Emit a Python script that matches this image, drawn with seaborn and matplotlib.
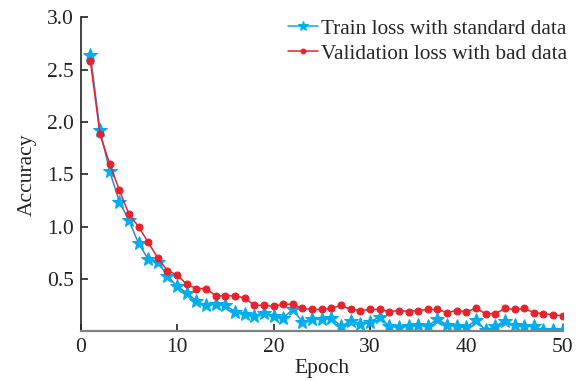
import numpy as np
import pandas as pd
import matplotlib
matplotlib.use("Agg")
import matplotlib.pyplot as plt
import seaborn as sns

epochs = list(range(1, 51))
train_loss = [2.64, 1.92, 1.53, 1.24, 1.06, 0.84, 0.69, 0.66, 0.53, 0.43,
              0.37, 0.29, 0.25, 0.26, 0.25, 0.19, 0.17, 0.15, 0.18, 0.15,
              0.13, 0.21, 0.09, 0.12, 0.12, 0.13, 0.05, 0.10, 0.07, 0.09,
              0.14, 0.05, 0.04, 0.05, 0.06, 0.05, 0.12, 0.06, 0.05, 0.04,
              0.11, 0.01, 0.05, 0.10, 0.06, 0.05, 0.05, 0.01, 0.01, 0.01]
val_loss = [2.58, 1.88, 1.60, 1.35, 1.12, 1.00, 0.85, 0.70, 0.58, 0.54,
            0.45, 0.41, 0.41, 0.34, 0.34, 0.34, 0.32, 0.25, 0.25, 0.24,
            0.26, 0.26, 0.22, 0.21, 0.21, 0.22, 0.25, 0.21, 0.20, 0.21,
            0.21, 0.19, 0.20, 0.19, 0.20, 0.21, 0.21, 0.18, 0.20, 0.19,
            0.22, 0.17, 0.17, 0.22, 0.21, 0.22, 0.18, 0.17, 0.16, 0.15]
xticks = [0, 10, 20, 30, 40, 50]
yticks = [0.5, 1.0, 1.5, 2.0, 2.5, 3.0]
labels = ["Train loss with standard data", "Validation loss with bad data"]

sns.set_theme(style="ticks")
plt.rcParams['font.family'] = ['Liberation Serif', 'DejaVu Serif']

fig = plt.figure(figsize=(5.85, 3.81), dpi=100)
ax = fig.add_axes([0.138, 0.130, 0.824, 0.825])

df_t = pd.DataFrame({"Epoch": epochs, "Loss": train_loss})
df_v = pd.DataFrame({"Epoch": epochs, "Loss": val_loss})

sns.lineplot(data=df_t, x="Epoch", y="Loss", ax=ax, color="#3C82C8", lw=1.1,
             marker="*", markersize=10.5, markerfacecolor="#00AEEF",
             markeredgecolor="#00AEEF", label=labels[0])
sns.lineplot(data=df_v, x="Epoch", y="Loss", ax=ax, color="#E8222C", lw=1.1,
             marker="o", markersize=5, markerfacecolor="#E8222C",
             markeredgecolor="#E8222C", label=labels[1])

ax.set_xlim(0, 50)
ax.set_ylim(0, 3.0)
ax.set_xticks(xticks)
ax.set_yticks(yticks)
ax.set_xticklabels([str(t) for t in xticks])
ax.set_yticklabels([f"{t:.1f}" for t in yticks])
ax.tick_params(direction="in", length=5, width=1.2, labelsize=15.5, colors="#222222", pad=5)
ax.set_xlabel("Epoch", fontsize=15.5, color="#222222", labelpad=1)
ax.set_ylabel("Accuracy", fontsize=15.5, color="#222222", labelpad=7)

for s in ["top", "right"]:
    ax.spines[s].set_visible(False)
ax.spines["left"].set_color("#222222")
ax.spines["left"].set_linewidth(1.2)
ax.spines["bottom"].set_color("#808080")
ax.spines["bottom"].set_linewidth(1.6)

leg = ax.legend(loc="upper right", bbox_to_anchor=(1.027, 1.022), frameon=False,
                fontsize=15.3, handlelength=1.4, handletextpad=0.15,
                borderaxespad=0.0, labelspacing=0.25, markerscale=0.7)
for h in leg.legend_handles:
    h.set_color(h.get_markerfacecolor())

fig.savefig("out.png", dpi=100)
